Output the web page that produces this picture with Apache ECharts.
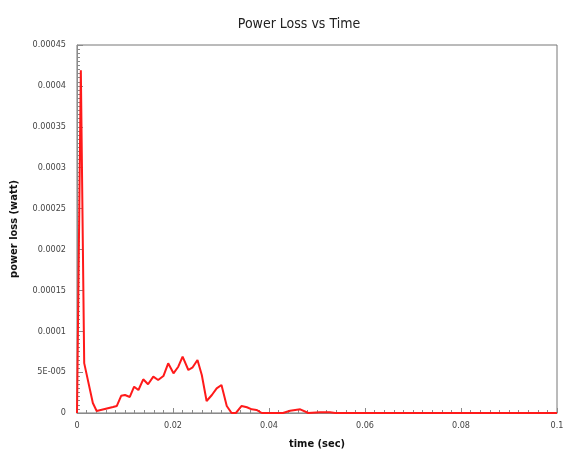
<!DOCTYPE html>
<html>
<head>
<meta charset="utf-8">
<script src="https://cdn.jsdelivr.net/npm/echarts@6/dist/echarts.min.js"></script>
<style>
  html, body { margin: 0; padding: 0; background: #fff; }
  #chart { width: 563px; height: 462px; }
</style>
</head>
<body>
<div id="chart"></div>
<script>
// Sampled time instants (s) and the power loss at each (W)
const timeSec = [
  0, 0.0008, 0.0015, 0.0033, 0.0041, 0.0075, 0.0083, 0.0092, 0.0100, 0.0110,
  0.0119, 0.0128, 0.0138, 0.0148, 0.0159, 0.0169, 0.0180, 0.0190, 0.0201, 0.0211,
  0.0220, 0.0232, 0.0241, 0.0251, 0.0260, 0.0270, 0.0281, 0.0291, 0.0301, 0.0312,
  0.0322, 0.0331, 0.0343, 0.0354, 0.0364, 0.0374, 0.0385, 0.0429, 0.0444, 0.0465,
  0.0482, 0.0506, 0.0527, 0.0538, 0.1
];
const powerLoss = [
  0, 0.000419, 0.000061, 0.0000122, 0.0000024, 0.0000073, 0.0000086, 0.000021, 0.000022, 0.0000196,
  0.0000322, 0.0000281, 0.0000412, 0.0000351, 0.0000444, 0.0000404, 0.0000452, 0.0000608, 0.0000485, 0.0000566,
  0.0000689, 0.0000526, 0.0000559, 0.0000648, 0.0000465, 0.0000147, 0.000022, 0.0000302, 0.0000342, 0.0000086,
  0, 0, 0.0000086, 0.000007, 0.0000045, 0.0000037, 0, 0, 0.0000028, 0.0000045,
  0, 0.000001, 0.000001, 0, 0
];

// Tick label text for each major tick
const xTickLabels = { 0: '0', 0.02: '0.02', 0.04: '0.04', 0.06: '0.06', 0.08: '0.08', 0.1: '0.1' };
const yTickLabels = ['0', '5E-005', '0.0001', '0.00015', '0.0002', '0.00025', '0.0003', '0.00035', '0.0004', '0.00045'];

const narrow = '"DejaVu Sans Condensed", "Liberation Sans Narrow", "Liberation Sans", sans-serif';
const axisGrey = '#8a8a8a';

const chart = echarts.init(document.getElementById('chart'), null, { renderer: 'canvas' });
chart.setOption({
  animation: false,
  backgroundColor: '#ffffff',
  title: {
    text: 'Power Loss vs Time',
    left: 294,
    top: 12,
    textAlign: 'center',
    textStyle: { fontFamily: narrow, fontSize: 14, fontWeight: 'normal', color: '#222' }
  },
  grid: {
    left: 77, right: 6, top: 45, bottom: 49,
    outerBoundsMode: 'none',
    containLabel: false,
    show: true, borderColor: '#777', borderWidth: 1, backgroundColor: 'transparent'
  },
  xAxis: {
    type: 'value',
    min: 0, max: 0.1, interval: 0.02,
    name: 'time (sec)',
    nameLocation: 'middle',
    nameGap: 26,
    nameTextStyle: { fontFamily: narrow, fontSize: 11, fontWeight: 'bold', color: '#111' },
    axisLine: { show: true, lineStyle: { color: axisGrey, width: 1 } },
    axisTick: { show: true, inside: true, length: 5, lineStyle: { color: axisGrey } },
    minorTick: { show: true, splitNumber: 10, length: 3, lineStyle: { color: axisGrey } },
    splitLine: { show: false },
    axisLabel: {
      fontFamily: narrow, fontSize: 9, color: '#444', margin: 8,
      formatter: v => xTickLabels[Math.round(v * 100) / 100] ?? ''
    }
  },
  yAxis: {
    type: 'value',
    min: 0, max: 0.00045, interval: 0.00005,
    name: 'power loss (watt)',
    nameLocation: 'middle',
    nameGap: 57,
    nameTextStyle: { fontFamily: narrow, fontSize: 11, fontWeight: 'bold', color: '#111' },
    axisLine: { show: true, lineStyle: { color: axisGrey, width: 1 } },
    axisTick: { show: true, inside: true, length: 6, lineStyle: { color: axisGrey } },
    minorTick: { show: true, splitNumber: 10, length: 3, lineStyle: { color: axisGrey } },
    splitLine: { show: false },
    axisLabel: {
      fontFamily: narrow, fontSize: 9, color: '#444', margin: 11,
      formatter: v => yTickLabels[Math.round(v / 0.00005)] ?? ''
    }
  },
  series: [{
    type: 'line',
    data: timeSec.map((t, i) => [t, powerLoss[i]]),
    showSymbol: false,
    lineStyle: { color: '#ff1a1a', width: 2 },
    clip: true,
    z: 3
  }]
});
</script>
</body>
</html>
